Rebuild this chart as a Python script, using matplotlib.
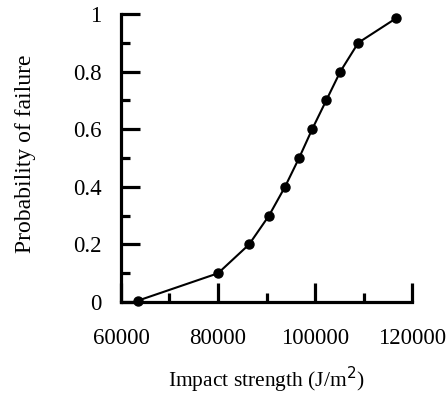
import numpy as np
import matplotlib.pyplot as plt
from matplotlib.ticker import MultipleLocator

# data
impact = [63500, 80000, 86400, 90500, 93800, 96700, 99400, 102300, 105200, 108900, 116700]
prob = [0.005, 0.1, 0.2, 0.3, 0.4, 0.5, 0.6, 0.7, 0.8, 0.9, 0.985]

x_ticks = [60000, 80000, 100000, 120000]
y_ticks = [0, 0.2, 0.4, 0.6, 0.8, 1]
y_labels = ["0", "0.2", "0.4", "0.6", "0.8", "1"]

plt.rcParams['font.family'] = ['Liberation Serif', 'DejaVu Serif']

fig = plt.figure(figsize=(4.48, 3.98), dpi=100)
ax = fig.add_axes([0.270, 0.241, 0.650, 0.724])

ax.plot(impact, prob, color='black', lw=1.5, marker='o', ms=6.5, clip_on=False, zorder=3)

ax.set_xlim(60000, 120000)
ax.set_ylim(0, 1)
ax.set_xticks(x_ticks)
ax.set_xticklabels([str(v) for v in x_ticks])
ax.set_yticks(y_ticks)
ax.set_yticklabels(y_labels)
ax.xaxis.set_minor_locator(MultipleLocator(10000))
ax.yaxis.set_minor_locator(MultipleLocator(0.1))

for s in ['top', 'right']:
    ax.spines[s].set_visible(False)
for s in ['left', 'bottom']:
    ax.spines[s].set_linewidth(2.3)

ax.tick_params(which='major', direction='in', length=13.5, width=2.3, labelsize=16.5)
ax.tick_params(which='minor', direction='in', length=6.5, width=2.3)
ax.tick_params(axis='x', which='major', pad=19)
ax.tick_params(axis='y', which='major', pad=14)

ax.set_xlabel('Impact strength (J/m$^2$)', fontsize=15.5, labelpad=11)
ax.set_ylabel('Probability of failure', fontsize=17)
ax.yaxis.set_label_coords(-0.292, 0.516)

fig.savefig('out.png', dpi=100)
